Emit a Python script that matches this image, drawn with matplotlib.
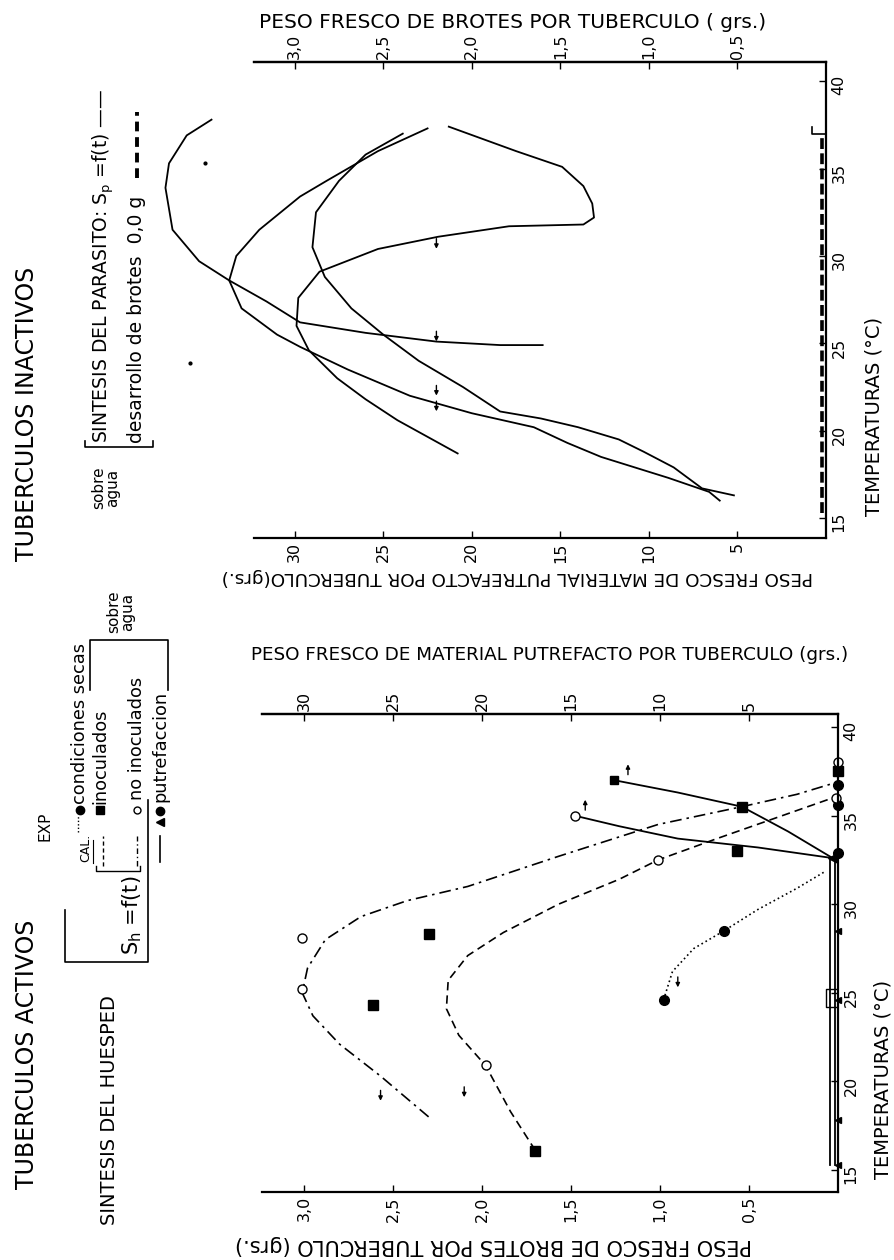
import matplotlib.pyplot as plt
from matplotlib.lines import Line2D

W, H = 895, 1260

# ---------------- datos: tuberculos inactivos (panel superior) ----------------
# T = temperatura (grados C), V = peso fresco de material putrefacto (grs.)
ina_a_t = [37.4, 36.0, 35.1, 34.0, 33.0, 32.2, 31.8, 31.7, 31.1, 30.4, 29.1, 27.6, 26.0, 24.6, 23.0, 21.8, 20.6, 18.7]
ina_a_v = [21.3, 17.5, 14.9, 13.7, 13.2, 13.1, 13.7, 17.9, 21.9, 25.3, 28.6, 29.8, 29.9, 29.2, 27.6, 26.0, 24.2, 20.8]
ina_b_t = [37.3, 36.0, 34.3, 33.4, 31.5, 30.0, 28.6, 27.0, 25.5, 24.8, 23.5, 22.0, 21.0, 20.2, 19.3, 18.5, 17.9, 17.3, 16.5, 16.0]
ina_b_v = [22.5, 25.3, 28.2, 29.7, 32.0, 33.3, 33.7, 33.0, 31.0, 29.7, 27.0, 23.5, 20.0, 16.5, 14.6, 12.7, 10.8, 8.9, 6.6, 6.0]
ina_c_t = [37.0, 35.8, 34.3, 32.5, 30.5, 28.8, 27.0, 25.5, 24.0, 22.5, 21.1, 20.7, 20.2, 19.5, 18.8, 17.9, 16.7, 16.3]
ina_c_v = [23.9, 26.0, 27.5, 28.8, 29.0, 28.3, 26.8, 25.0, 23.0, 20.5, 18.4, 16.1, 14.0, 11.7, 10.3, 8.6, 7.0, 5.2]
ina_d_t = [37.8, 36.9, 35.3, 33.9, 31.5, 29.7, 28.6, 27.4, 26.2, 25.6, 25.1, 24.9, 24.9]
ina_d_v = [34.7, 36.1, 37.1, 37.3, 36.9, 35.4, 33.7, 31.6, 29.7, 26.0, 22.0, 18.4, 16.0]
ina_arrow_t = [30.7, 25.4, 22.3, 21.4]
ina_arrow_v = [22.0, 22.0, 22.0, 22.0]
ina_brotes_t = [15.3, 36.9]          # desarrollo de brotes 0,0 g

# ---------------- datos: tuberculos activos (panel inferior) ----------------
# V = peso fresco de brotes (grs.), P = material putrefacto (grs.)
act_dd_t = [18.0, 20.3, 22.1, 23.7, 25.0, 26.4, 28.0, 29.3, 30.2, 31.0, 32.7, 34.5, 35.5, 36.2, 36.9]
act_dd_v = [2.30, 2.57, 2.80, 2.95, 3.01, 2.98, 2.88, 2.68, 2.42, 2.08, 1.57, 1.01, 0.54, 0.23, 0.0]
act_da_t = [16.1, 18.3, 20.9, 22.6, 24.1, 25.7, 27.1, 28.4, 30.0, 31.4, 32.5, 33.7, 34.9, 36.1]
act_da_v = [1.70, 1.84, 1.98, 2.13, 2.20, 2.19, 2.08, 1.88, 1.57, 1.23, 1.01, 0.68, 0.34, 0.0]
act_do_t = [24.6, 26.2, 27.5, 28.5, 29.7, 30.9, 31.8]
act_do_v = [0.98, 0.93, 0.81, 0.64, 0.45, 0.23, 0.08]
put1_t = [32.6, 33.2, 33.7, 34.4, 34.9, 35.0]
put1_p = [0.3, 4.5, 9.0, 12.3, 14.4, 14.8]
put2_t = [32.6, 34.1, 35.5, 36.3, 37.0]
put2_p = [0.3, 2.8, 5.4, 9.0, 12.6]
secas_t = [24.6, 28.5, 32.9, 35.6, 36.7]
secas_v = [0.98, 0.64, 0.0, 0.0, 0.0]
inoc_t = [16.1, 24.3, 28.3, 33.0, 35.5, 37.5]
inoc_v = [1.70, 2.61, 2.30, 0.57, 0.54, 0.0]
noinoc_t = [20.9, 25.2, 28.1, 32.5, 36.0, 38.0]
noinoc_v = [1.98, 3.01, 3.01, 1.01, 0.01, 0.0]
base_t = [15.3, 17.8, 24.6, 28.5]
down_t = [19.2, 19.4, 25.6]
down_v = [2.57, 2.10, 0.90]
up_t = [37.6, 35.6]
up_v = [1.18, 1.42]

temp_ticks = [15, 20, 25, 30, 35, 40]
putr_ticks = [30, 25, 20, 15, 10, 5]
brot_ticks = [3.0, 2.5, 2.0, 1.5, 1.0, 0.5]
brot_labels = ["3,0", "2,5", "2,0", "1,5", "1,0", "0,5"]

fig = plt.figure(figsize=(W / 100, H / 100), dpi=100)


def fx(x):
    return x / W


def fy(y):
    return 1 - y / H


def vtext(x, y, s, size, ha='left', **kw):
    # texto vertical (de abajo hacia arriba), posicion en pixeles de la imagen
    fig.text(fx(x), fy(y), s, rotation=90, rotation_mode='anchor',
             ha=ha, va='center', fontsize=size, **kw)


def pline(xs, ys, **kw):
    kw.setdefault('color', 'k')
    fig.add_artist(Line2D([fx(v) for v in xs], [fy(v) for v in ys],
                          transform=fig.transFigure, **kw))


def style_axes(ax):
    ax.spines['left'].set_visible(False)
    for s in ['top', 'bottom', 'right']:
        ax.spines[s].set_linewidth(1.6)
    ax.yaxis.tick_right()
    ax.set_yticks(temp_ticks)
    ax.tick_params(axis='y', direction='in', length=5, width=1, labelsize=11.5,
                   labelrotation=90, pad=4)
    ax.tick_params(axis='x', direction='in', length=5, width=1, labelsize=11.5,
                   labelrotation=90, pad=3, top=False)


def arrow(ax, v, t, up):
    d = 0.45 if up else -0.45
    ax.annotate('', xy=(v, t + d), xytext=(v, t - d),
                arrowprops=dict(arrowstyle='-|>', lw=1, color='k', mutation_scale=6))


# ---------------- panel superior ----------------
ax1 = fig.add_axes([fx(254), fy(538), (826 - 254) / W, (538 - 62) / H])
ax1.set_xlim(32.3, 0)
ax1.set_ylim(13.86, 41.1)
style_axes(ax1)
ax1.set_xticks(putr_ticks)
ax1.set_xticklabels([str(v) for v in putr_ticks])
sec1 = ax1.secondary_xaxis('top', functions=(lambda v: v / 10, lambda v: v * 10))
sec1.set_xticks(brot_ticks)
sec1.set_xticklabels(brot_labels)
sec1.tick_params(direction='in', length=5, width=1, labelsize=11.5, labelrotation=90, pad=2)
sec1.spines['top'].set_linewidth(1.6)

for tt, vv in [(ina_a_t, ina_a_v), (ina_b_t, ina_b_v), (ina_c_t, ina_c_v), (ina_d_t, ina_d_v)]:
    ax1.plot(vv, tt, color='k', lw=1.3, clip_on=False)
ax1.plot([0.25, 0.25], ina_brotes_t, color='k', lw=2.6, ls=(0, (3, 1.2)))
ax1.plot([0, 0.8, 0.8], [37.0, 37.0, 37.4], color='k', lw=1.2)
for t, v in zip(ina_arrow_t, ina_arrow_v):
    arrow(ax1, v, t, up=False)

# ---------------- panel inferior ----------------
ax2 = fig.add_axes([fx(262), fy(1192), (838 - 262) / W, (1192 - 714) / H])
ax2.set_xlim(3.236, 0)
ax2.set_ylim(13.76, 40.73)
style_axes(ax2)
ax2.set_xticks(brot_ticks)
ax2.set_xticklabels(brot_labels)
sec2 = ax2.secondary_xaxis('top', functions=(lambda v: v * 10, lambda v: v / 10))
sec2.set_xticks(putr_ticks)
sec2.set_xticklabels([str(v) for v in putr_ticks])
sec2.tick_params(direction='in', length=5, width=1, labelsize=11.5, labelrotation=90, pad=2)
sec2.spines['top'].set_linewidth(1.6)

ax2.plot(act_dd_v, act_dd_t, color='k', lw=1.2, ls=(0, (7, 3, 1.5, 3)))
ax2.plot(act_da_v, act_da_t, color='k', lw=1.2, ls=(0, (5, 3)))
ax2.plot(act_do_v, act_do_t, color='k', lw=1.2, ls=(0, (1, 1.8)))
ax2.plot([p / 10 for p in put1_p], put1_t, color='k', lw=1.3)
ax2.plot([p / 10 for p in put2_p], put2_t, color='k', lw=1.3)
ax2.plot([0.015, 0.015], [15.3, 32.6], color='k', lw=1.3)
ax2.plot([0.045, 0.045], [15.3, 32.6], color='k', lw=1.3)
ax2.plot([0.0, 0.07, 0.07, 0.0], [24.2, 24.2, 25.2, 25.2], color='k', lw=1)

ax2.plot(secas_v, secas_t, 'o', color='k', ms=7, clip_on=False)
ax2.plot(inoc_v, inoc_t, 's', color='k', ms=7, clip_on=False)
ax2.plot(noinoc_v, noinoc_t, 'o', mfc='white', mec='k', mew=1, ms=6.5, clip_on=False)
ax2.plot([0.0] * len(base_t), base_t, '<', color='k', ms=5, clip_on=False)
ax2.plot([put1_p[-1] / 10], [put1_t[-1]], 'o', mfc='white', mec='k', mew=1, ms=6.5)
ax2.plot([put2_p[-1] / 10], [put2_t[-1]], 's', color='k', ms=6)
ax2.plot([put1_p[0] / 10], [put1_t[0]], '<', color='k', ms=7)
for t, v in zip(down_t, down_v):
    arrow(ax2, v, t, up=False)
for t, v in zip(up_t, up_v):
    arrow(ax2, v, t, up=True)

# ---------------- rotulos de ejes ----------------
fig.text(fx(513), fy(22), "PESO FRESCO DE BROTES POR TUBERCULO ( grs.)",
         ha='center', va='center', fontsize=14.5)
fig.text(fx(517), fy(577), "PESO FRESCO DE MATERIAL PUTREFACTO POR TUBERCULO(grs.)",
         ha='center', va='center', fontsize=13.2, rotation=180)
vtext(874, 416, "TEMPERATURAS (°C)", 14, ha='center')
fig.text(fx(550), fy(655), "PESO FRESCO DE MATERIAL PUTREFACTO POR TUBERCULO (grs.)",
         ha='center', va='center', fontsize=13.2)
fig.text(fx(493), fy(1245), "PESO FRESCO DE BROTES POR TUBERCULO (grs.)",
         ha='center', va='center', fontsize=15, rotation=180)
vtext(883, 1079, "TEMPERATURAS (°C)", 14, ha='center')

# ---------------- leyenda superior ----------------
vtext(27, 414, "TUBERCULOS INACTIVOS", 17, ha='center')
vtext(106, 488, "sobre\nagua", 11, ha='center', linespacing=0.9)
pline([85, 85, 153, 153], [441, 447, 447, 441], lw=1.2)
vtext(103, 443, "SINTESIS DEL PARASITO: S$_\\mathrm{p}$ =f(t) ——", 13.5)
vtext(137, 443, "desarrollo de brotes  0,0 g", 13.5)
pline([137, 137], [178, 112], lw=2.8, ls=(0, (2.5, 1.5)))
pline([205, 190], [163, 363], ls='none', marker='o', ms=2)

# ---------------- leyenda inferior ----------------
vtext(27, 1054, "TUBERCULOS ACTIVOS", 17, ha='center')
vtext(110, 1225, "SINTESIS DEL HUESPED", 14)
pline([65, 65, 148, 148], [910, 962, 962, 800], lw=1.2)
vtext(132, 955, "S$_\\mathrm{h}$ =f(t)", 15)
vtext(86, 862, "CAL.", 9)
pline([93, 93], [863, 840], lw=0.8)
pline([96, 96, 140, 140], [866, 871, 871, 866], lw=1)
pline([103, 103], [866, 836], lw=1, ls=(0, (3, 2)))
pline([137, 137], [866, 836], lw=1, ls=(0, (4, 2, 1, 2)))
vtext(45, 826, "EXP", 11, ha='center')
pline([78, 78], [832, 816], lw=1, ls=(0, (1, 1.5)))
pline([80], [810], marker='o', ms=6, ls='none')
vtext(80, 804, "condiciones secas", 12.8)
pline([100], [810], marker='s', ms=6, ls='none')
vtext(100, 804, "inoculados", 12.8)
pline([137], [810], marker='o', ms=5, mfc='white', mew=1, ls='none')
vtext(137, 800, "no inoculados", 12.8)
pline([160, 160], [862, 836], lw=1.2)
pline([160], [822], marker='<', ms=6, ls='none')
pline([160], [811], marker='o', ms=6, ls='none')
vtext(160, 802, "putrefaccion", 12.8)
pline([90, 90, 168, 168], [690, 640, 640, 690], lw=1.2)
vtext(121, 612, "sobre\nagua", 11, ha='center', linespacing=0.9)

fig.savefig("out.png", dpi=100)
